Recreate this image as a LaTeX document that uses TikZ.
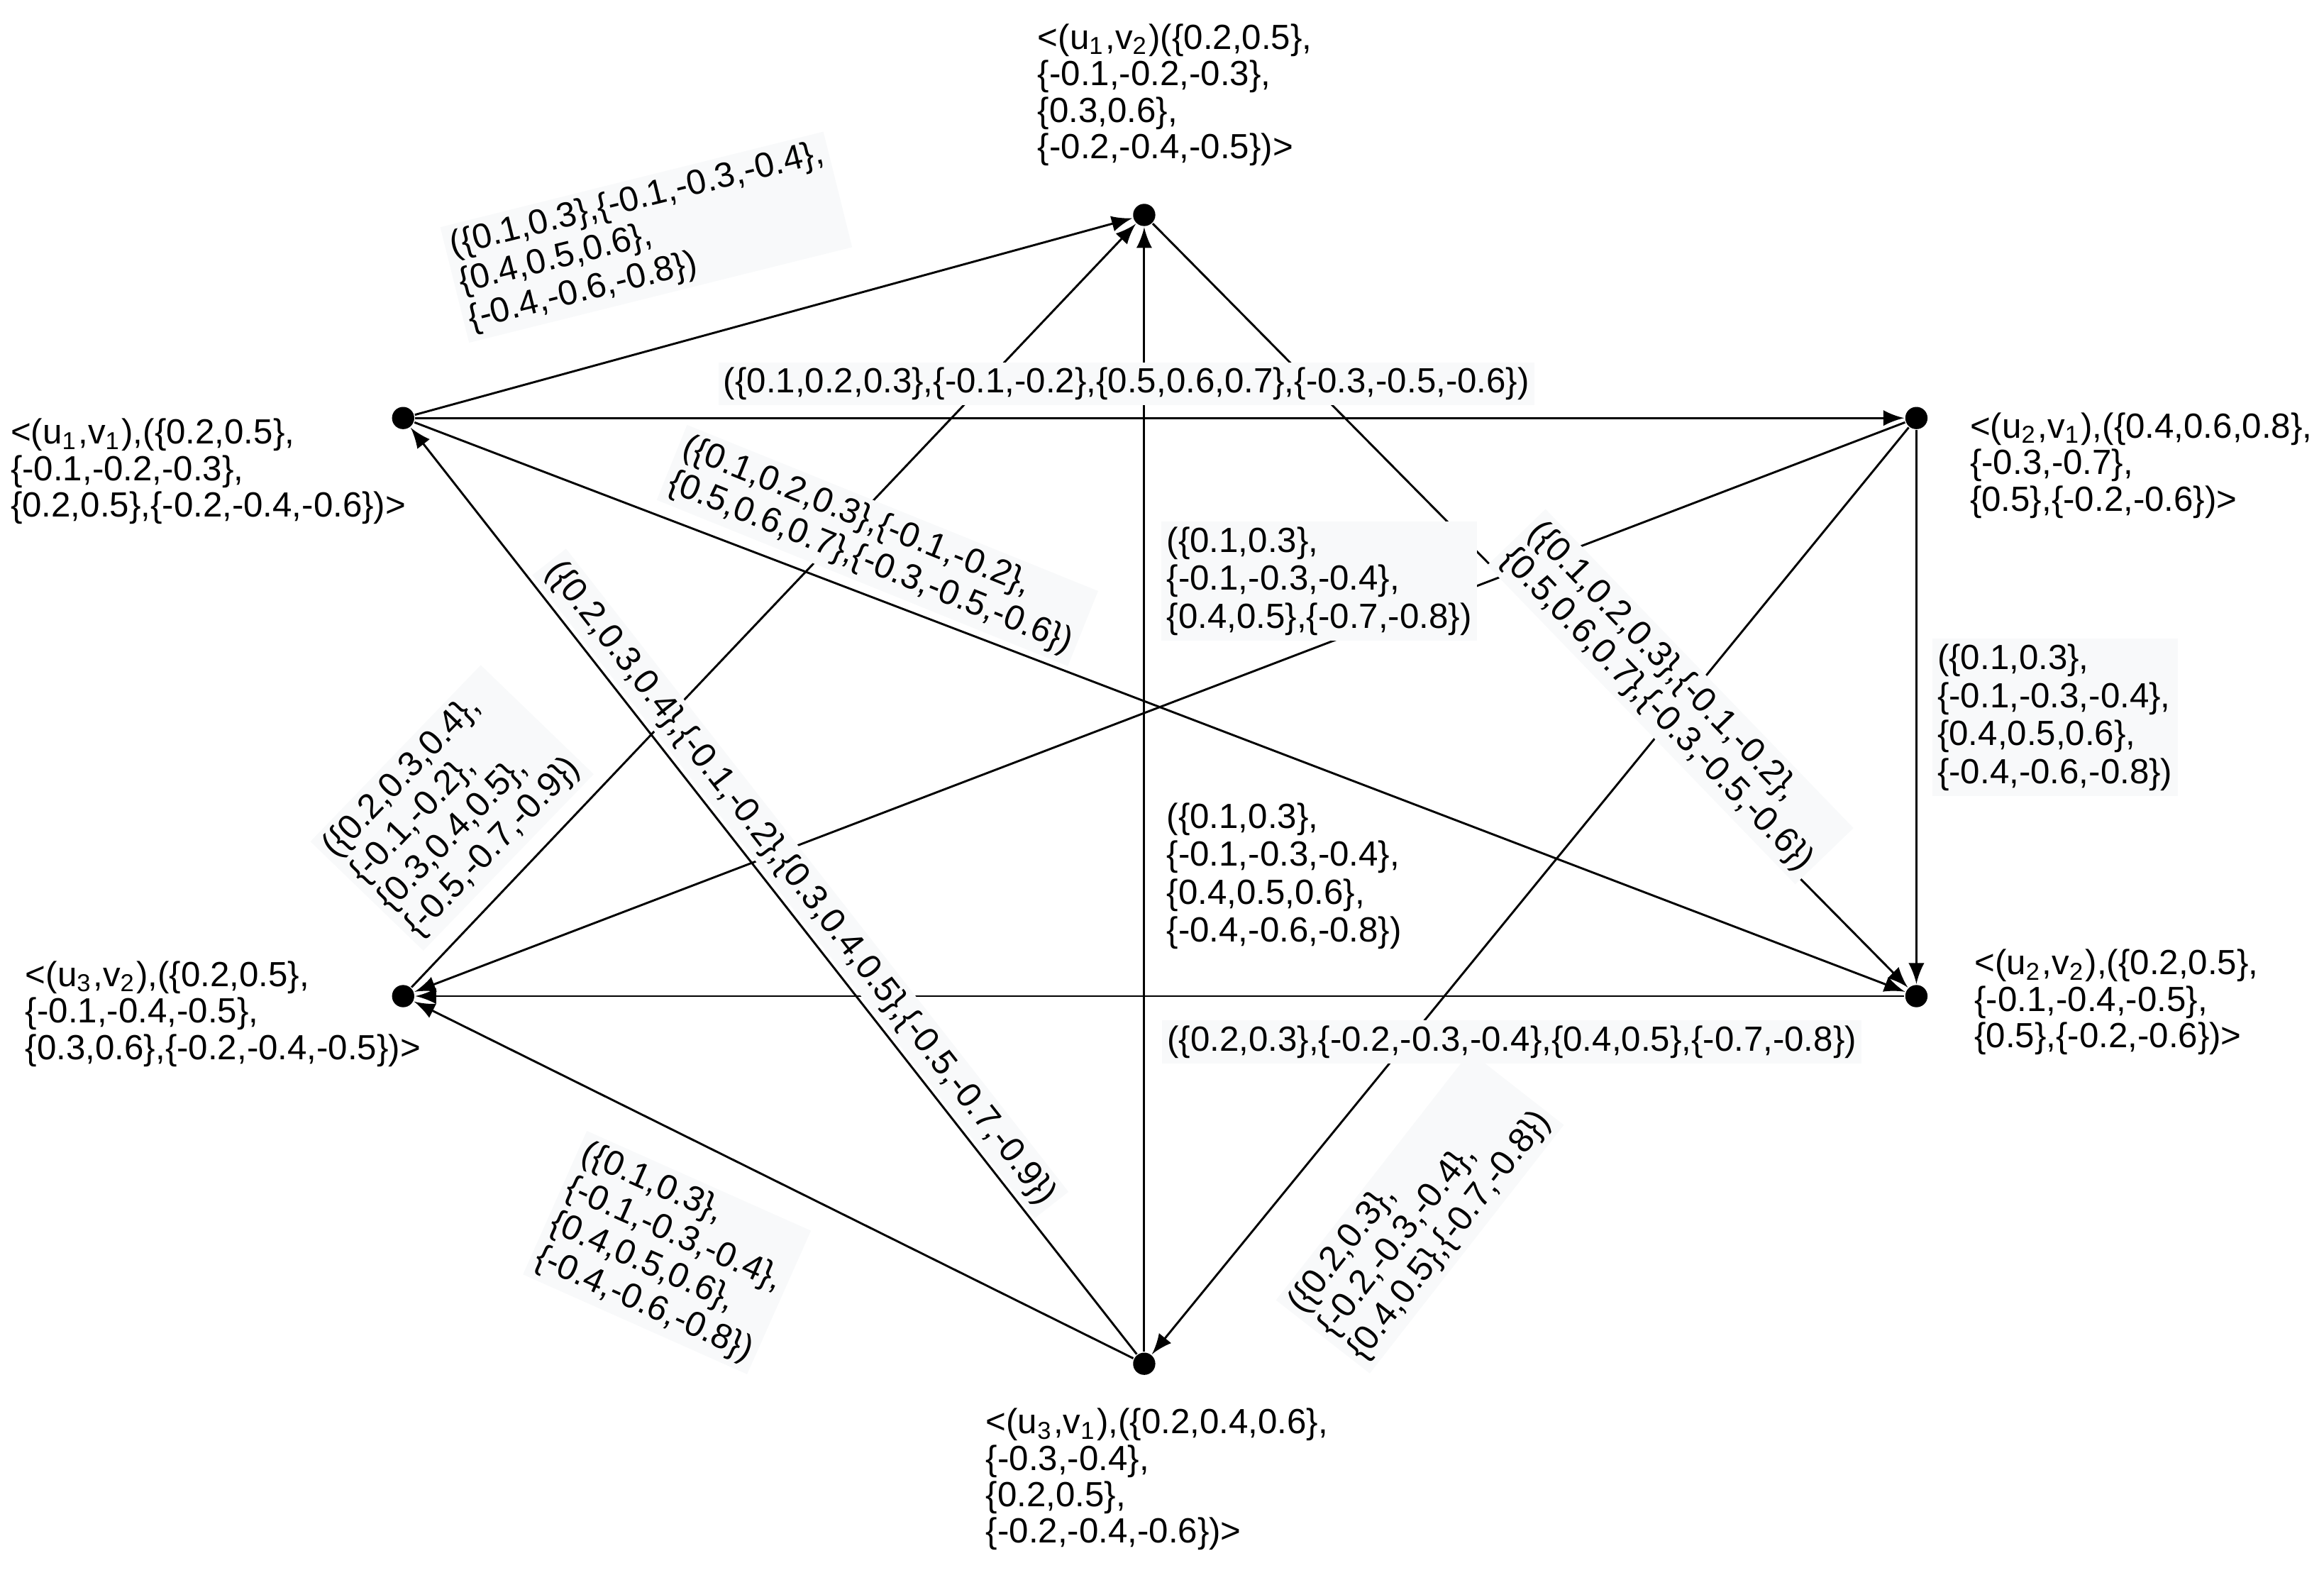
\documentclass[tikz,border=0pt]{standalone}
\usepackage{fontspec}
\setmainfont{Liberation Sans}
\begin{document}
\definecolor{lbg}{HTML}{F8F9FA}
\begin{tikzpicture}[x=0.01cm,y=-0.01cm,
  dot/.style={circle,fill=black,inner sep=0pt,minimum size=0.15cm},
  lab/.style={font=\fontsize{6.7}{7.3}\selectfont,align=left,inner sep=1pt,fill=lbg},
  nlab/.style={font=\fontsize{6.7}{7}\selectfont,align=left,inner sep=1pt},
  e/.style={-latex,thin,shorten >=0pt}]
\useasboundingbox (0,0) rectangle (1568,1069);
\node[dot] (a) at (772,145) {};
\node[dot] (b) at (272,282) {};
\node[dot] (c) at (1293,282) {};
\node[dot] (d) at (1293,672) {};
\node[dot] (f) at (272,672) {};
\node[dot] (g) at (772,920) {};
% node labels
\node[nlab,anchor=west] (la) at (696,64) {<(u\textsubscript{1},v\textsubscript{2})(\{0.2,0.5\},\\\{-0.1,-0.2,-0.3\},\\\{0.3,0.6\},\\\{-0.2,-0.4,-0.5\})>};
\node[nlab,anchor=west] (lb) at (3,318) {<(u\textsubscript{1},v\textsubscript{1}),(\{0.2,0.5\},\\\{-0.1,-0.2,-0.3\},\\\{0.2,0.5\},\{-0.2,-0.4,-0.6\})>};
\node[nlab,anchor=west] (lc) at (1325,314) {<(u\textsubscript{2},v\textsubscript{1}),(\{0.4,0.6,0.8\},\\\{-0.3,-0.7\},\\\{0.5\},\{-0.2,-0.6\})>};
\node[nlab,anchor=west] (ld) at (1328,676) {<(u\textsubscript{2},v\textsubscript{2}),(\{0.2,0.5\},\\\{-0.1,-0.4,-0.5\},\\\{0.5\},\{-0.2,-0.6\})>};
\node[nlab,anchor=west] (lf) at (13,684) {<(u\textsubscript{3},v\textsubscript{2}),(\{0.2,0.5\},\\\{-0.1,-0.4,-0.5\},\\\{0.3,0.6\},\{-0.2,-0.4,-0.5\})>};
\node[nlab,anchor=west] (lg) at (661,998) {<(u\textsubscript{3},v\textsubscript{1}),(\{0.2,0.4,0.6\},\\\{-0.3,-0.4\},\\\{0.2,0.5\},\\\{-0.2,-0.4,-0.6\})>};
% edges
\draw[e] (b) -- (a);
\draw[e] (b) -- (c);
\draw[e] (b) -- (d);
\draw[e] (a) -- (d);
\draw[e] (f) -- (a);
\draw[e] (g) -- (a);
\draw[e] (g) -- (b);
\draw[e] (g) -- (f);
\draw[e] (c) -- (f);
\draw[e] (c) -- (g);
\draw[e] (c) -- (d);
\draw[e] (d) -- (f);
% edge labels
\node[lab,rotate=14] (e1) at (436,160) {(\{0.1,0.3\},\{-0.1,-0.3,-0.4\},\\\{0.4,0.5,0.6\},\\\{-0.4,-0.6,-0.8\})};
\node[lab] (e2) at (760,259) {(\{0.1,0.2,0.3\},\{-0.1,-0.2\},\{0.5,0.6,0.7\},\{-0.3,-0.5,-0.6\})};
\node[lab,rotate=-22] (e3) at (592,368) {(\{0.1,0.2,0.3\},\{-0.1,-0.2\},\\\{0.5,0.6,0.7\},\{-0.3,-0.5,-0.6\})};
\node[lab,rotate=46] (e4) at (305,545) {(\{0.2,0.3,0.4\},\\\{-0.1,-0.2\},\\\{0.3,0.4,0.5\},\\\{-0.5,-0.7,-0.9\})};
\node[lab,rotate=-52] (e5) at (540,596) {(\{0.2,0.3,0.4\},\{-0.1,-0.2\},\{0.3,0.4,0.5\},\{-0.5,-0.7,-0.9\})};
\node[lab,rotate=-46] (e6) at (1127,470) {(\{0.1,0.2,0.3\},\{-0.1,-0.2\},\\\{0.5,0.6,0.7\},\{-0.3,-0.5,-0.6\})};
\node[lab,anchor=west] (e7) at (783,392) {(\{0.1,0.3\},\\\{-0.1,-0.3,-0.4\},\\\{0.4,0.5\},\{-0.7,-0.8\})};
\node[lab,anchor=west,fill=none] (e8) at (783,591) {(\{0.1,0.3\},\\\{-0.1,-0.3,-0.4\},\\\{0.4,0.5,0.6\},\\\{-0.4,-0.6,-0.8\})};
\node[lab,anchor=west] (e9) at (1303,484) {(\{0.1,0.3\},\\\{-0.1,-0.3,-0.4\},\\\{0.4,0.5,0.6\},\\\{-0.4,-0.6,-0.8\})};
\node[lab] (e10) at (1020,703) {(\{0.2,0.3\},\{-0.2,-0.3,-0.4\},\{0.4,0.5\},\{-0.7,-0.8\})};
\node[lab,rotate=52] (e11) at (958,818) {(\{0.2,0.3\},\\\{-0.2,-0.3,-0.4\},\\\{0.4,0.5\},\{-0.7,-0.8\})};
\node[lab,rotate=-24] (e12) at (450,845) {(\{0.1,0.3\},\\\{-0.1,-0.3,-0.4\},\\\{0.4,0.5,0.6\},\\\{-0.4,-0.6,-0.8\})};
\end{tikzpicture}
\end{document}
